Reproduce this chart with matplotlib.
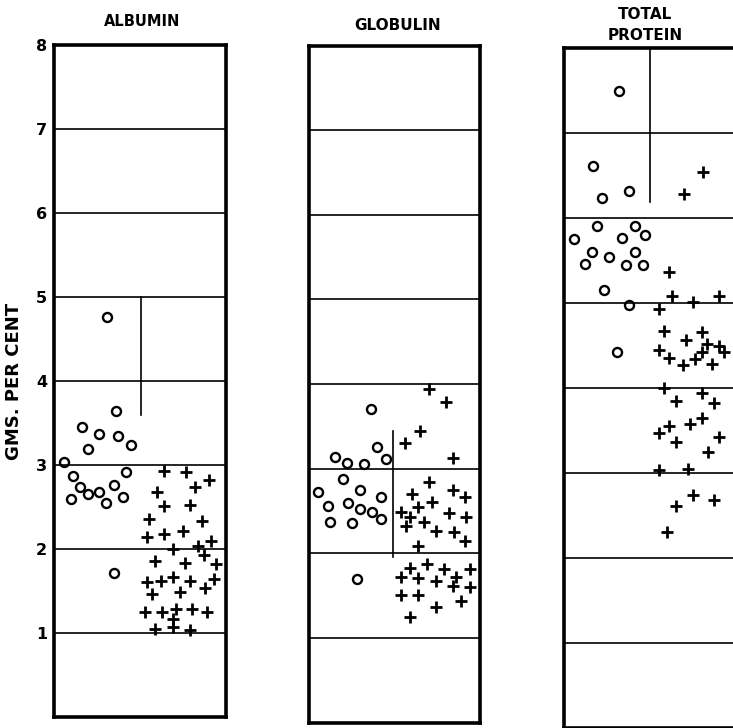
import matplotlib
matplotlib.use("Agg")
import matplotlib.pyplot as plt

# x = position across the panel (0..1), y = gms per cent
alb_o_x = [0.31, 0.36, 0.16, 0.26, 0.37, 0.45, 0.20, 0.06, 0.42, 0.11, 0.35, 0.15, 0.26, 0.20, 0.40, 0.10, 0.30, 0.35]
alb_o_y = [4.76, 3.64, 3.45, 3.37, 3.35, 3.24, 3.19, 3.04, 2.92, 2.87, 2.76, 2.74, 2.68, 2.65, 2.62, 2.60, 2.55, 1.71]
alb_p_x = [0.64, 0.77, 0.90, 0.82, 0.60, 0.64, 0.79, 0.55, 0.86, 0.54, 0.64, 0.75, 0.91, 0.84, 0.69, 0.87, 0.59, 0.76,
           0.94, 0.54, 0.62, 0.69, 0.79, 0.93, 0.88, 0.73, 0.57, 0.53, 0.63, 0.71, 0.80, 0.89, 0.69, 0.59, 0.69, 0.79]
alb_p_y = [2.93, 2.92, 2.82, 2.74, 2.68, 2.51, 2.52, 2.36, 2.33, 2.14, 2.18, 2.21, 2.10, 2.04, 2.00, 1.93, 1.86, 1.83,
           1.82, 1.61, 1.62, 1.67, 1.62, 1.64, 1.54, 1.49, 1.46, 1.25, 1.25, 1.29, 1.29, 1.25, 1.17, 1.05, 1.07, 1.04]

glo_o_x = [0.36, 0.40, 0.15, 0.22, 0.32, 0.45, 0.20, 0.05, 0.30, 0.42, 0.11, 0.23, 0.30, 0.37, 0.42, 0.12, 0.25, 0.28]
glo_o_y = [3.70, 3.26, 3.14, 3.07, 3.06, 3.11, 2.88, 2.72, 2.75, 2.67, 2.56, 2.59, 2.52, 2.49, 2.41, 2.37, 2.36, 1.69]
glo_p_x = [0.70, 0.80, 0.65, 0.56, 0.84, 0.70, 0.84, 0.60, 0.91, 0.72, 0.64, 0.54, 0.59, 0.82, 0.92, 0.57, 0.67, 0.74,
           0.85, 0.91, 0.64, 0.69, 0.59, 0.79, 0.94, 0.54, 0.64, 0.74, 0.86, 0.84, 0.94, 0.54, 0.64, 0.89, 0.74, 0.59]
glo_p_y = [3.94, 3.79, 3.44, 3.30, 3.13, 2.84, 2.75, 2.70, 2.67, 2.61, 2.55, 2.49, 2.43, 2.48, 2.43, 2.32, 2.37, 2.26,
           2.25, 2.15, 2.09, 1.87, 1.83, 1.81, 1.81, 1.72, 1.71, 1.67, 1.72, 1.61, 1.60, 1.51, 1.51, 1.44, 1.37, 1.25]

tot_o_x = [0.32, 0.17, 0.22, 0.38, 0.19, 0.41, 0.06, 0.34, 0.47, 0.16, 0.26, 0.41, 0.12, 0.36, 0.46, 0.23, 0.38, 0.31]
tot_o_y = [7.49, 6.61, 6.24, 6.32, 5.91, 5.91, 5.75, 5.76, 5.80, 5.60, 5.54, 5.60, 5.46, 5.45, 5.45, 5.15, 4.98, 4.42]
tot_p_x = [0.81, 0.70, 0.61, 0.63, 0.75, 0.90, 0.55, 0.58, 0.80, 0.71, 0.83, 0.80, 0.90, 0.93, 0.55, 0.61, 0.69, 0.76,
           0.86, 0.58, 0.80, 0.65, 0.87, 0.80, 0.73, 0.61, 0.55, 0.90, 0.65, 0.84, 0.55, 0.72, 0.75, 0.65, 0.87, 0.60]
tot_p_y = [6.54, 6.28, 5.36, 5.08, 5.01, 5.08, 4.93, 4.67, 4.66, 4.56, 4.52, 4.42, 4.49, 4.42, 4.45, 4.35, 4.27, 4.34,
           4.28, 4.00, 3.94, 3.85, 3.82, 3.65, 3.58, 3.55, 3.47, 3.42, 3.36, 3.25, 3.04, 3.05, 2.74, 2.61, 2.68, 2.31]

# dividing line in each panel: x, y from, y to
alb_div = (0.506, 3.6, 5.0)
glo_div = (0.49, 1.95, 3.45)
tot_div = (0.50, 6.19, 8.0)

titles = ["ALBUMIN", "GLOBULIN", "TOTAL\nPROTEIN"]

plt.rcParams['font.family'] = 'DejaVu Sans'
plt.rcParams['font.weight'] = 'bold'

W, H = 733, 728
fig = plt.figure(figsize=(W / 100, H / 100), dpi=100)

def px_axes(left, width, top8, bottom0):
    # place an axes by pixel positions of the 8 and 0 levels
    return fig.add_axes([left / W, (H - bottom0) / H, width / W, (bottom0 - top8) / H])

ax1 = px_axes(54, 172, 45, 717)
ax2 = px_axes(309, 171, 45.5, 722.5)
ax3 = px_axes(564, 172, 48, 728)

panels = [
    (ax1, alb_o_x, alb_o_y, alb_p_x, alb_p_y, alb_div),
    (ax2, glo_o_x, glo_o_y, glo_p_x, glo_p_y, glo_div),
    (ax3, tot_o_x, tot_o_y, tot_p_x, tot_p_y, tot_div),
]

for ax, ox, oy, px, py, div in panels:
    ax.set_xlim(0, 1)
    ax.set_ylim(0, 8)
    for s in ax.spines.values():
        s.set_linewidth(2.6)
    for lvl in range(1, 8):
        ax.axhline(lvl, color='black', lw=1.2)
    ax.plot([div[0], div[0]], [div[1], div[2]], color='black', lw=1.2)
    ax.plot(ox, oy, 'o', ms=6.5, mfc='none', mec='black', mew=1.7)
    ax.plot(px, py, '+', ms=8.5, color='black', mew=2.0)
    ax.set_xticks([])
    ax.set_yticks([])

ax1.set_yticks(range(1, 9))
ax1.set_yticklabels([str(i) for i in range(1, 9)], fontsize=11.5, fontweight='bold')
ax1.tick_params(axis='y', length=0, pad=5)
ax1.set_ylabel("GMS. PER CENT", fontsize=13, fontweight='bold', labelpad=9)

fig.text(142 / W, 1 - 22 / H, titles[0], ha='center', va='center', fontsize=10.5, fontweight='bold')
fig.text(398 / W, 1 - 26 / H, titles[1], ha='center', va='center', fontsize=11, fontweight='bold')
fig.text(645 / W, 1 - 25 / H, titles[2], ha='center', va='center', fontsize=11, fontweight='bold',
         linespacing=1.5)

fig.savefig("out.png", dpi=100)
